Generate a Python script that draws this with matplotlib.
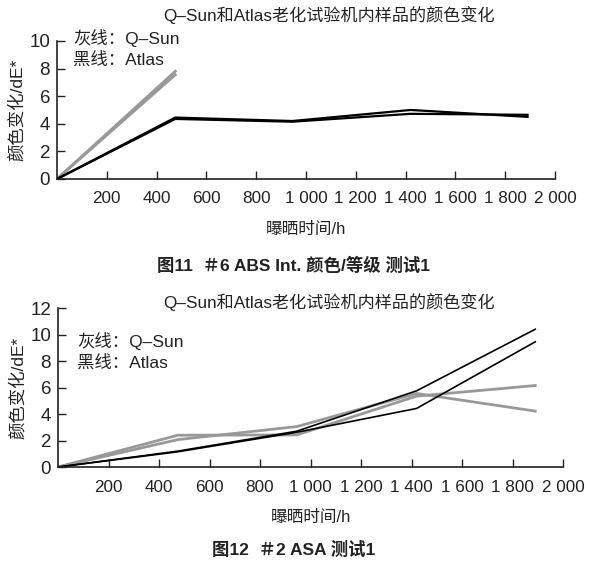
import matplotlib
matplotlib.use("Agg")
import matplotlib.pyplot as plt

plt.rcParams['font.family'] = ['Liberation Sans', 'Noto Sans CJK SC', 'DejaVu Sans']

# exposure hours
hours = [0, 475, 945, 1420, 1890]

# figure 11: #6 ABS Int.
qsun_11_a = [0, 7.8]
qsun_11_b = [0, 7.55]
atlas_11_a = [0, 4.45, 4.2, 5.0, 4.5]
atlas_11_b = [0, 4.35, 4.15, 4.72, 4.65]

# figure 12: #2 ASA
qsun_12_a = [0, 2.4, 2.42, 5.35, 6.15]
qsun_12_b = [0, 2.07, 3.05, 5.55, 4.22]
atlas_12_a = [0, 1.2, 2.7, 5.75, 10.4]
atlas_12_b = [0, 1.15, 2.62, 4.42, 9.45]

xticks = [200, 400, 600, 800, 1000, 1200, 1400, 1600, 1800, 2000]
xtick_labels = ["200", "400", "600", "800", "1 000", "1 200", "1 400", "1 600", "1 800", "2 000"]

title = "Q\u2013Sun和Atlas老化试验机内样品的颜色变化"
gray = "#999999"
txt = "#222222"

fig = plt.figure(figsize=(5.9, 5.68), dpi=100)
ax1 = fig.add_axes([0.0966, 0.6849, 0.844, 0.2430])
ax2 = fig.add_axes([0.0983, 0.1778, 0.856, 0.2799])


def style(ax, ymax, ystep):
    ax.set_xlim(0, 2000)
    ax.set_ylim(0, ymax)
    ax.set_xticks(xticks)
    ax.set_xticklabels(xtick_labels)
    ax.set_yticks(range(0, ymax + 1, ystep))
    for s in ["top", "right"]:
        ax.spines[s].set_visible(False)
    for s in ["left", "bottom"]:
        ax.spines[s].set_linewidth(1.2)
        ax.spines[s].set_color(txt)
    ax.tick_params(axis="x", direction="in", length=6, width=1, pad=9,
                   labelsize=12.3, colors=txt)
    ax.tick_params(axis="y", direction="in", length=6, width=1, pad=5,
                   labelsize=13.5, colors=txt)
    ax.set_xlabel("曝晒时间/h", fontsize=12, color=txt, labelpad=11)
    ax.set_ylabel("颜色变化/dE*", fontsize=12.5, color=txt, labelpad=3)


ax1.plot(hours[:2], qsun_11_a, color=gray, lw=2)
ax1.plot(hours[:2], qsun_11_b, color=gray, lw=2)
ax1.plot(hours, atlas_11_a, color="black", lw=1.6)
ax1.plot(hours, atlas_11_b, color="black", lw=1.6)
style(ax1, 10, 2)
ax1.text(0.033, 1.085, "灰线：Q\u2013Sun\n黑线：Atlas", transform=ax1.transAxes,
         fontsize=12.5, color=txt, va="top", ha="left", linespacing=1.3)

ax2.plot(hours, qsun_12_a, color=gray, lw=2)
ax2.plot(hours, qsun_12_b, color=gray, lw=2)
ax2.plot(hours, atlas_12_a, color="black", lw=1.2)
ax2.plot(hours, atlas_12_b, color="black", lw=1.2)
style(ax2, 12, 2)
ax2.text(0.038, 0.85, "灰线：Q\u2013Sun\n黑线：Atlas", transform=ax2.transAxes,
         fontsize=12.5, color=txt, va="top", ha="left", linespacing=1.3)

fig.text(0.558, 1 - 15 / 568, title, ha="center", va="center", fontsize=12.3, color=txt)
fig.text(0.558, 1 - 302 / 568, title, ha="center", va="center", fontsize=12.3, color=txt)

fig.text(0.497, 1 - 265 / 568, "图11  \uff036 ABS Int. 颜色/等级 测试1", ha="center", va="center",
         fontsize=12.5, fontweight="bold", color=txt)
fig.text(0.498, 1 - 549 / 568, "图12  \uff032 ASA 测试1", ha="center", va="center",
         fontsize=12.5, fontweight="bold", color=txt)

fig.savefig("out.png", dpi=100)
